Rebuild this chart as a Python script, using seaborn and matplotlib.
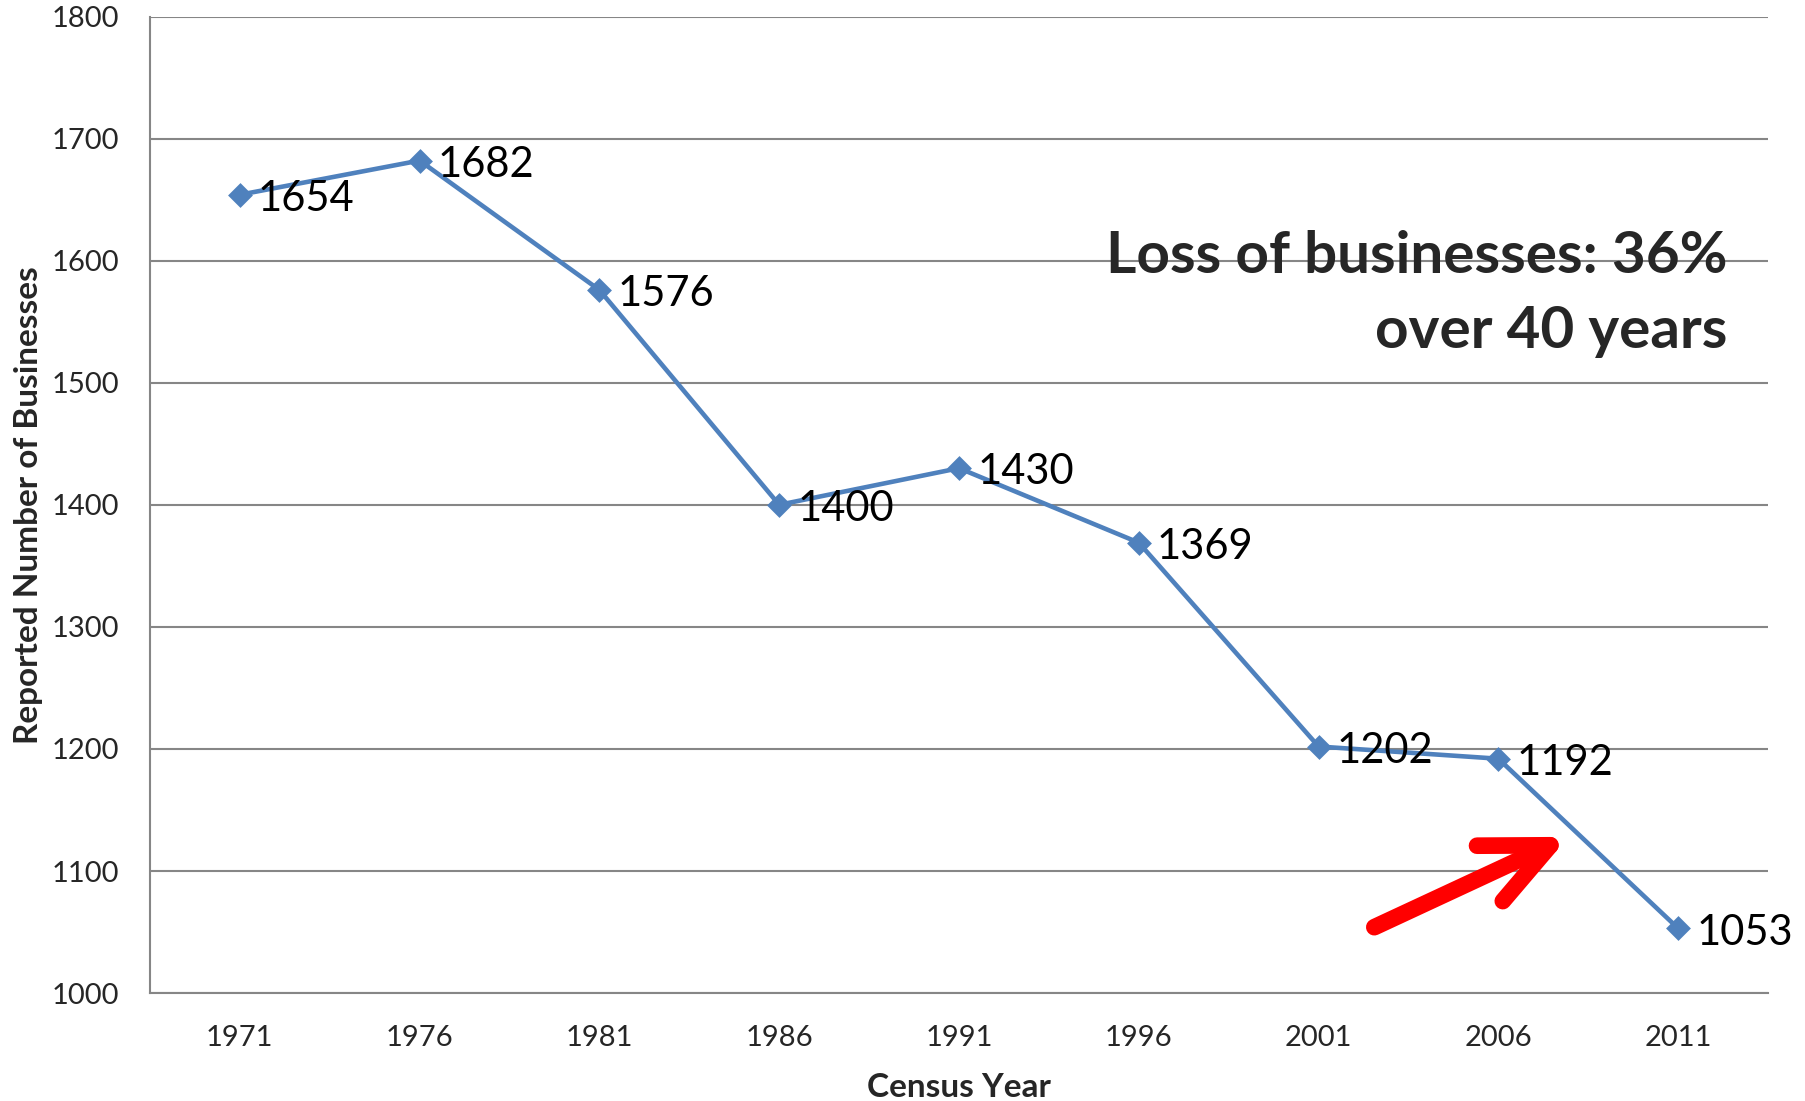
import seaborn as sns
import matplotlib.pyplot as plt
import pandas as pd

years = ["1971", "1976", "1981", "1986", "1991", "1996", "2001", "2006", "2011"]
businesses = [1654, 1682, 1576, 1400, 1430, 1369, 1202, 1192, 1053]

df = pd.DataFrame({"year": years, "count": businesses})

sns.set_style("white")
plt.rcParams["font.family"] = ["Lato", "DejaVu Sans"]

fig = plt.figure(figsize=(18.06, 11.01), dpi=100)
ax = fig.add_axes([0.083, 0.098, 0.896, 0.887])

sns.pointplot(ax=ax, data=df, x="year", y="count", color="#4F81BD",
              markers="D", markersize=10, linewidth=3.3, errorbar=None)

ax.set_ylim(1000, 1800)
ax.set_xlim(-0.5, len(years) - 0.5)
ax.set_yticks(range(1000, 1801, 100))
ax.yaxis.grid(True, color="#868686", linewidth=1.5)
ax.set_axisbelow(True)
for s in ["top", "right"]:
    ax.spines[s].set_visible(False)
for s in ["left", "bottom"]:
    ax.spines[s].set_color("#868686")
    ax.spines[s].set_linewidth(1.5)
ax.tick_params(axis="both", length=0, labelsize=21)
ax.tick_params(axis="x", pad=23)
ax.tick_params(axis="y", pad=22)

ax.set_xlabel("Census Year", fontsize=24, fontweight="bold", labelpad=16)
ax.set_ylabel("Reported Number of Businesses", fontsize=24, fontweight="bold", labelpad=6)

for i, v in enumerate(businesses):
    ax.annotate(str(v), (i, v), xytext=(13, -3), textcoords="offset points",
                fontsize=30, va="center", ha="left", color="black")

ax.text(0.975, 0.716, "Loss of businesses: 36%\nover 40 years", transform=ax.transAxes,
        ha="right", va="center", fontsize=42, fontweight="bold", linespacing=1.5)

ax.annotate("", xy=(7.39, 1128), xytext=(6.31, 1054),
            arrowprops=dict(arrowstyle="->,head_length=2.4,head_width=1.1",
                            mutation_scale=20, color="#FF0000", linewidth=12,
                            capstyle="round", joinstyle="round",
                            shrinkA=0, shrinkB=0))

fig.savefig("out.png", dpi=100)
